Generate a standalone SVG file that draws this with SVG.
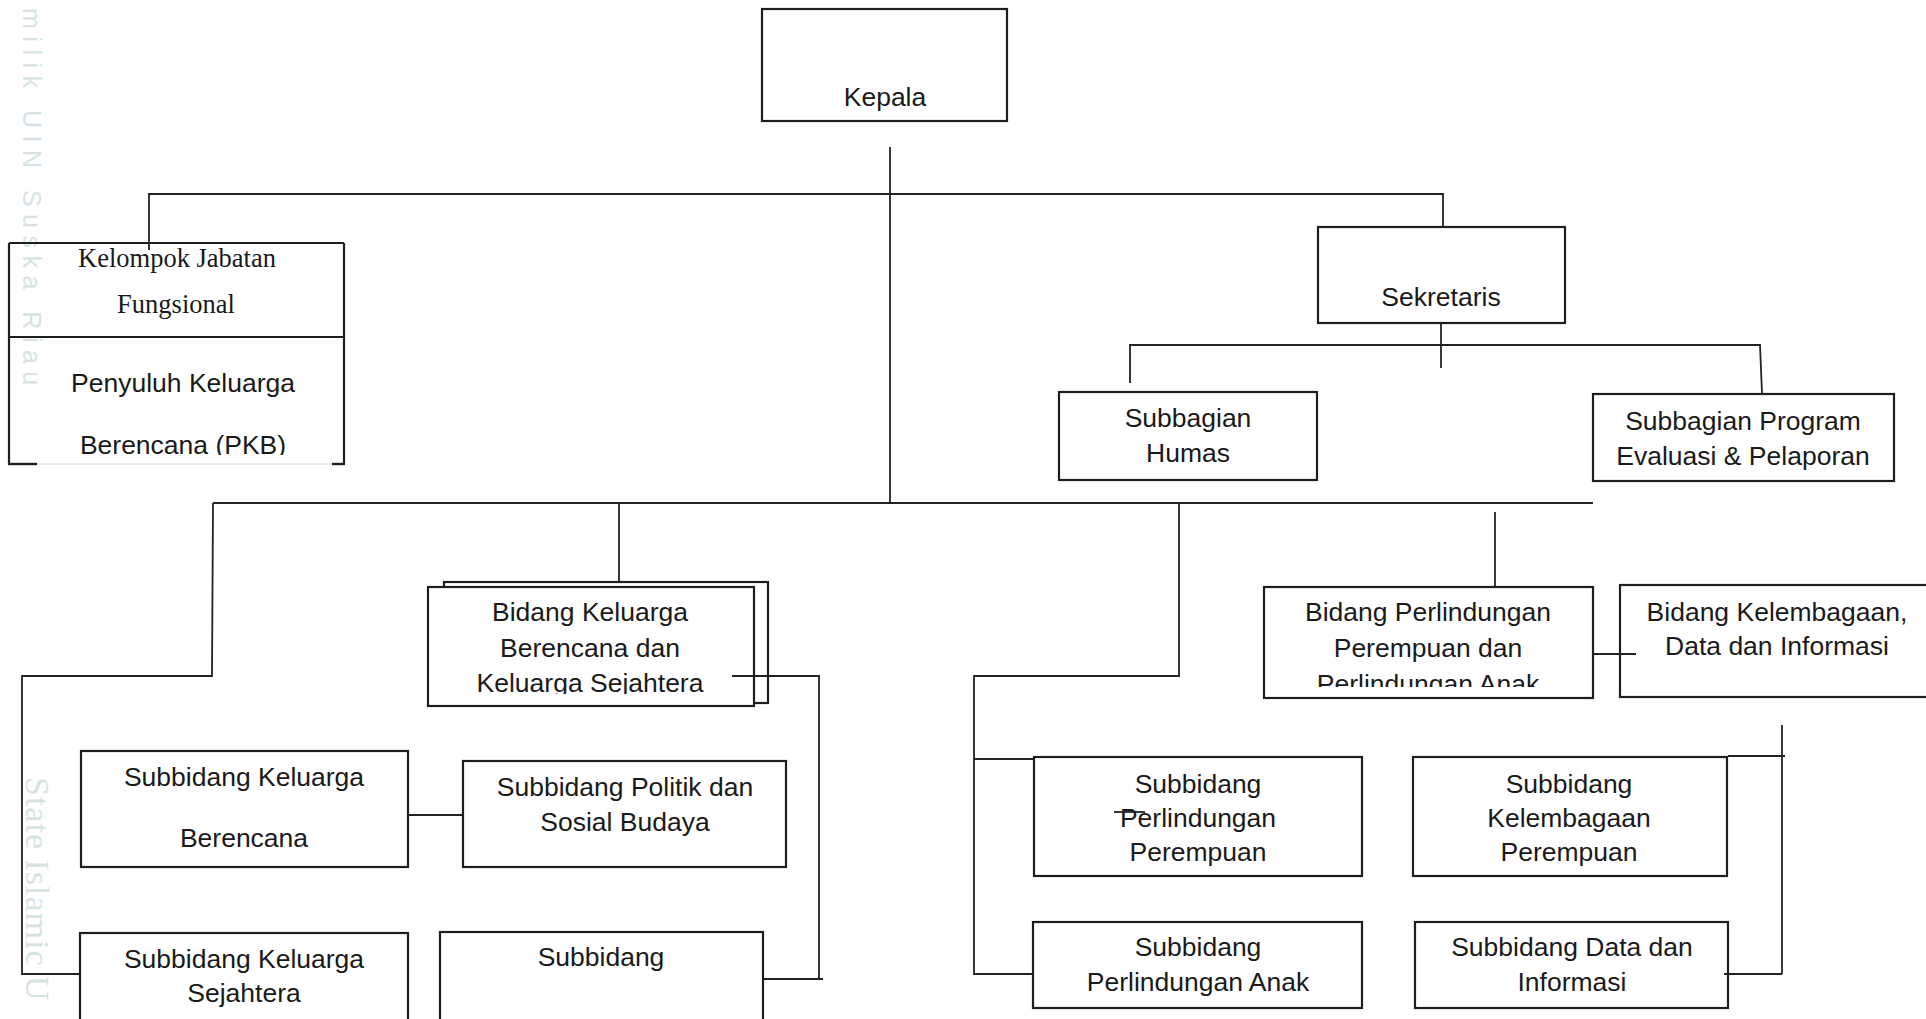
<svg xmlns="http://www.w3.org/2000/svg" width="1926" height="1019" viewBox="0 0 1926 1019">
<defs>
<style>
.box{fill:none;stroke:#1e1e1e;stroke-width:2.2}
.bw{fill:#fff;stroke:#1e1e1e;stroke-width:2.2}
.ln{fill:none;stroke:#222;stroke-width:1.8}
.t{font-family:"Liberation Sans",Arial,sans-serif;font-size:26.5px;fill:#1a1a1a;text-anchor:middle}
.tr{font-family:"Liberation Serif","Times New Roman",serif;font-size:26.5px;fill:#1a1a1a;text-anchor:middle}
.wm{font-family:"Liberation Sans",Arial,sans-serif;font-size:25px;fill:#d6e4e1;letter-spacing:7.5px}
.wms{font-family:"Liberation Serif","Times New Roman",serif;font-size:34px;fill:#d6e4e1;letter-spacing:1px}
</style>
<clipPath id="cpPKB"><rect x="0" y="340" width="360" height="115"/></clipPath>
<clipPath id="cpKB"><rect x="420" y="580" width="340" height="114"/></clipPath>
<clipPath id="cpPP"><rect x="1260" y="580" width="340" height="107"/></clipPath>
</defs>
<rect width="1926" height="1019" fill="#fff"/>

<g id="watermark">
<text class="wm" transform="translate(23,8) rotate(90)">milik UIN Suska Riau</text>
<text class="wms" transform="translate(26,777) rotate(90)">State Islamic U</text>
</g>

<g id="connectors">
<polyline class="ln" points="149,250 149,194 1443,194 1443,227"/>
<line class="ln" x1="890" y1="147" x2="890" y2="503"/>
<line class="ln" x1="1441" y1="323" x2="1441" y2="368"/>
<polyline class="ln" points="1130,383 1130,345 1760,345 1762,393"/>
<line class="ln" x1="213" y1="503" x2="1593" y2="503"/>
<polyline class="ln" points="213,503 212,676 22,676 22,974 80,974"/>
<line class="ln" x1="619" y1="503" x2="619" y2="582"/>
<polyline class="ln" points="1179,503 1179,676 974,676 974,974 1032,974"/>
<line class="ln" x1="974" y1="759" x2="1034" y2="759"/>
<line class="ln" x1="1495" y1="512" x2="1495" y2="587"/>
<line class="ln" x1="1593" y1="654" x2="1636" y2="654"/>
<line class="ln" x1="408" y1="815" x2="463" y2="815"/>
<line class="ln" x1="1782" y1="725" x2="1782" y2="974"/>
<line class="ln" x1="1728" y1="756" x2="1785" y2="756"/>
<line class="ln" x1="1724" y1="974" x2="1782" y2="974"/>
</g>

<g id="kepala">
<rect class="box" x="762" y="9" width="245" height="112"/>
<text class="t" x="885" y="106">Kepala</text>
</g>

<g id="kelompok">
<line class="ln" x1="9" y1="243" x2="344" y2="243" style="stroke-width:2.2;stroke:#1e1e1e"/>
<line class="ln" x1="9" y1="243" x2="9" y2="464" style="stroke-width:2.2;stroke:#1e1e1e"/>
<line class="ln" x1="344" y1="243" x2="344" y2="464" style="stroke-width:2.2;stroke:#1e1e1e"/>
<line class="ln" x1="9" y1="337" x2="344" y2="337" style="stroke-width:2.2;stroke:#1e1e1e"/>
<line class="ln" x1="8" y1="464" x2="37" y2="464" style="stroke-width:2.4;stroke:#1e1e1e"/>
<line class="ln" x1="332" y1="464" x2="345" y2="464" style="stroke-width:2.4;stroke:#1e1e1e"/>
<line class="ln" x1="37" y1="464" x2="332" y2="464" style="stroke-width:1;stroke:#d4d4d4"/>
<text class="tr" x="177" y="267">Kelompok Jabatan</text>
<text class="tr" x="176" y="313">Fungsional</text>
<text class="t" x="183" y="392">Penyuluh Keluarga</text>
<text class="t" x="183" y="454" clip-path="url(#cpPKB)">Berencana (PKB)</text>
</g>

<g id="sekretaris">
<rect class="box" x="1318" y="227" width="247" height="96"/>
<text class="t" x="1441" y="306">Sekretaris</text>
</g>

<g id="humas">
<rect class="box" x="1059" y="392" width="258" height="88"/>
<text class="t" x="1188" y="427">Subbagian</text>
<text class="t" x="1188" y="462">Humas</text>
</g>

<g id="program">
<rect class="box" x="1593" y="394" width="301" height="87"/>
<text class="t" x="1743" y="430">Subbagian Program</text>
<text class="t" x="1743" y="465">Evaluasi &amp; Pelaporan</text>
</g>

<g id="bidang-kb">
<rect class="box" x="444" y="582" width="324" height="121"/>
<rect class="bw" x="428" y="587" width="326" height="119"/>
<g clip-path="url(#cpKB)">
<text class="t" x="590" y="621">Bidang Keluarga</text>
<text class="t" x="590" y="657">Berencana dan</text>
<text class="t" x="590" y="692">Keluarga Sejahtera</text>
</g>
<polyline class="ln" points="732,676 819,676 819,979"/>
<line class="ln" x1="764" y1="979" x2="823" y2="979"/>
</g>

<g id="bidang-pppa">
<rect class="box" x="1264" y="587" width="329" height="111"/>
<g clip-path="url(#cpPP)">
<text class="t" x="1428" y="621">Bidang Perlindungan</text>
<text class="t" x="1428" y="657">Perempuan dan</text>
<text class="t" x="1428" y="693">Perlindungan Anak</text>
</g>
</g>

<g id="bidang-kdi">
<rect class="box" x="1620" y="585" width="320" height="112"/>
<text class="t" x="1777" y="621">Bidang Kelembagaan,</text>
<text class="t" x="1777" y="655">Data dan Informasi</text>
</g>

<g id="sub-kb">
<rect class="box" x="81" y="751" width="327" height="116"/>
<text class="t" x="244" y="786">Subbidang Keluarga</text>
<text class="t" x="244" y="847">Berencana</text>
</g>

<g id="sub-politik">
<rect class="box" x="463" y="761" width="323" height="106"/>
<text class="t" x="625" y="796">Subbidang Politik dan</text>
<text class="t" x="625" y="831">Sosial Budaya</text>
</g>

<g id="sub-ks">
<rect class="box" x="80" y="933" width="328" height="100"/>
<text class="t" x="244" y="968">Subbidang Keluarga</text>
<text class="t" x="244" y="1002">Sejahtera</text>
</g>

<g id="sub-x">
<rect class="box" x="440" y="932" width="323" height="100"/>
<text class="t" x="601" y="966">Subbidang</text>
</g>

<g id="sub-pp">
<rect class="box" x="1034" y="757" width="328" height="119"/>
<text class="t" x="1198" y="793">Subbidang</text>
<text class="t" x="1198" y="827">Perlindungan</text>
<text class="t" x="1198" y="861">Perempuan</text>
<line class="ln" x1="1114" y1="812" x2="1145" y2="812"/>
</g>

<g id="sub-kp">
<rect class="box" x="1413" y="757" width="314" height="119"/>
<text class="t" x="1569" y="793">Subbidang</text>
<text class="t" x="1569" y="827">Kelembagaan</text>
<text class="t" x="1569" y="861">Perempuan</text>
</g>

<g id="sub-pa">
<rect class="box" x="1033" y="922" width="329" height="86"/>
<text class="t" x="1198" y="956">Subbidang</text>
<text class="t" x="1198" y="991">Perlindungan Anak</text>
</g>

<g id="sub-di">
<rect class="box" x="1415" y="922" width="313" height="86"/>
<text class="t" x="1572" y="956">Subbidang Data dan</text>
<text class="t" x="1572" y="991">Informasi</text>
</g>
</svg>
